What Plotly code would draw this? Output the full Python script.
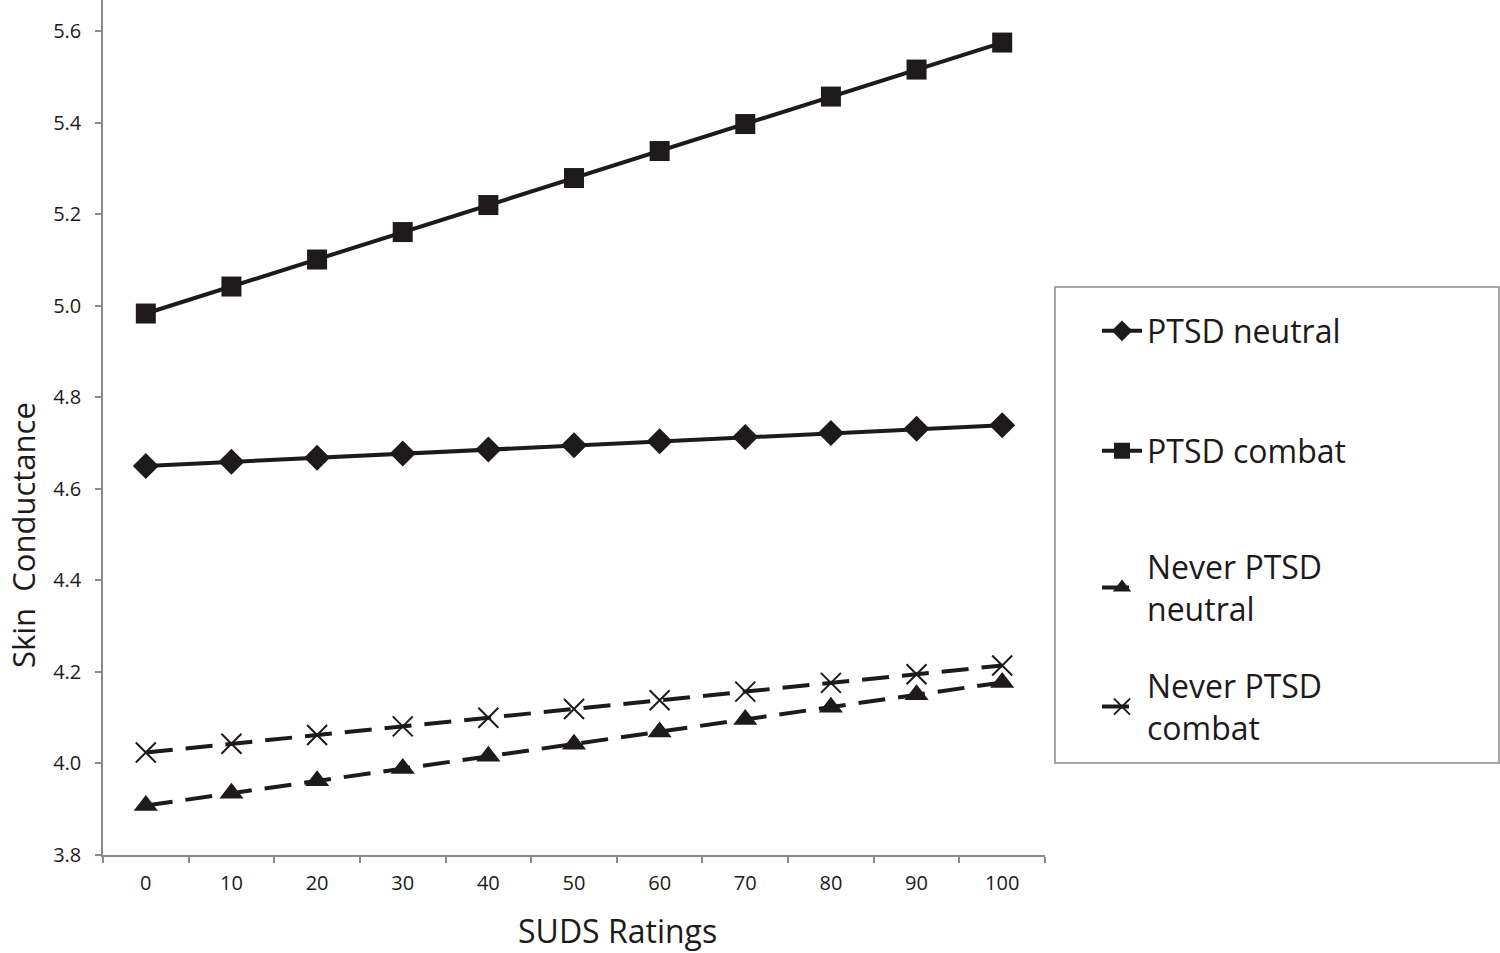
import plotly.graph_objects as go

suds = ["0", "10", "20", "30", "40", "50", "60", "70", "80", "90", "100"]
ptsd_neutral = [4.650, 4.659, 4.668, 4.677, 4.686, 4.695, 4.704, 4.713, 4.722, 4.731, 4.739]
ptsd_combat = [4.983, 5.042, 5.101, 5.161, 5.220, 5.279, 5.338, 5.397, 5.457, 5.516, 5.575]
never_neutral = [3.908, 3.935, 3.962, 3.989, 4.016, 4.042, 4.069, 4.096, 4.123, 4.150, 4.177]
never_combat = [4.024, 4.043, 4.062, 4.081, 4.100, 4.119, 4.138, 4.157, 4.176, 4.195, 4.214]
y_ticks = [3.8, 4.0, 4.2, 4.4, 4.6, 4.8, 5.0, 5.2, 5.4, 5.6]

FONT = "Open Sans"
BLACK = "#1e1a1b"
GREY = "#8a8a8a"

series = [
    ("PTSD neutral", ptsd_neutral, "diamond", 20, "solid", "legend"),
    ("PTSD combat", ptsd_combat, "square", 20, "solid", "legend2"),
    ("Never PTSD<br>neutral", never_neutral, "triangle-up", 21, "27px,13px", "legend3"),
    ("Never PTSD<br>combat", never_combat, "x-thin-open", 20, "27px,13px", "legend4"),
]

fig = go.Figure()
for name, vals, sym, size, dash, lg in series:
    open_sym = sym.endswith("open")
    fig.add_trace(go.Scatter(
        x=suds, y=vals, name=name, mode="lines+markers",
        line=dict(color=BLACK, width=4, dash=dash),
        marker=dict(symbol=sym, size=size, color=BLACK,
                    line=dict(color=BLACK, width=2 if open_sym else 0)),
        legend=lg,
    ))

W, H = 1500, 953
L, R, T, B = 103, 455, 0, 98
pw, ph = W - L - R, H - T - B

def px_x(p):
    return (p - L) / pw

def px_y(p):
    return (H - B - p) / ph

leg_common = dict(bgcolor="rgba(0,0,0,0)", borderwidth=0,
                  font=dict(family=FONT, size=32, color=BLACK),
                  xanchor="left", yanchor="middle", itemwidth=40)

axis_common = dict(
    ticks="outside", ticklen=6, tickcolor=GREY, tickwidth=1.5,
    showline=True, linecolor=GREY, linewidth=1.5,
    showgrid=False, zeroline=False, automargin=False,
    tickfont=dict(family=FONT, size=20, color=BLACK),
)

fig.update_layout(
    width=W, height=H,
    margin=dict(l=L, r=R, t=T, b=B),
    plot_bgcolor="white", paper_bgcolor="white",
    font=dict(family=FONT, color=BLACK),
    xaxis=dict(type="category", range=[-0.5, 10.5], tickson="boundaries",
               ticklabelstandoff=9, **axis_common),
    yaxis=dict(range=[3.8, 5.668], tickvals=y_ticks,
               ticktext=[f"{v:.1f}" for v in y_ticks],
               ticklabelstandoff=10, **axis_common),
    legend=dict(x=px_x(1097), y=px_y(331), **leg_common),
    legend2=dict(x=px_x(1097), y=px_y(451), **leg_common),
    legend3=dict(x=px_x(1097), y=px_y(588), **leg_common),
    legend4=dict(x=px_x(1097), y=px_y(707), **leg_common),
    shapes=[dict(type="rect", xref="paper", yref="paper",
                 x0=px_x(1055), x1=px_x(1499), y0=px_y(763), y1=px_y(287),
                 line=dict(color=GREY, width=1.5), fillcolor="rgba(0,0,0,0)")],
    annotations=[
        dict(text="SUDS Ratings", xref="paper", yref="paper",
             x=px_x(617), y=px_y(931), showarrow=False,
             xanchor="center", yanchor="middle",
             font=dict(family=FONT, size=32, color=BLACK)),
        dict(text="Skin  Conductance", xref="paper", yref="paper",
             x=px_x(23), y=px_y(535), showarrow=False, textangle=-90,
             xanchor="center", yanchor="middle",
             font=dict(family=FONT, size=31, color=BLACK)),
    ],
    showlegend=True,
)

fig.write_html("out.html", config={"displayModeBar": False},
               post_script="document.body.style.margin='0';document.body.style.padding='0';")
